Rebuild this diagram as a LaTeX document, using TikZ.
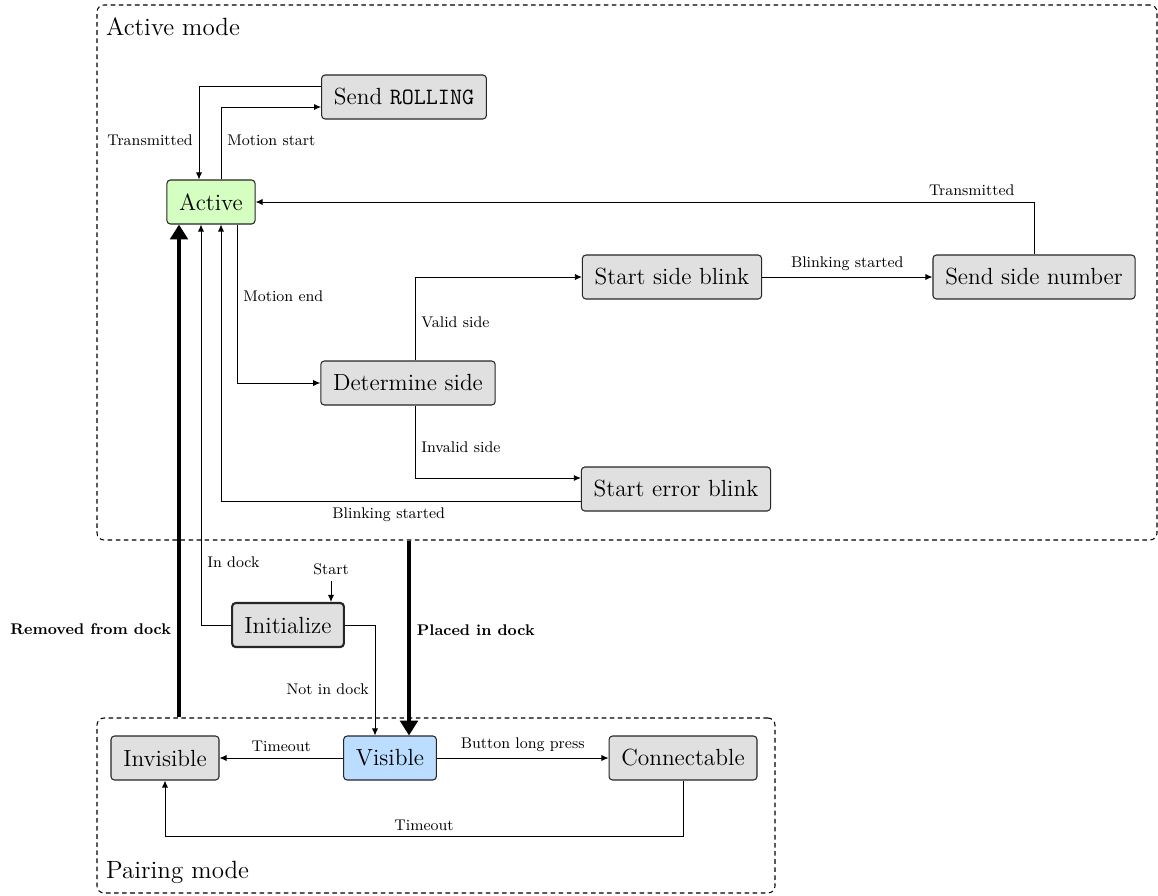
\documentclass[tikz,border=0pt]{standalone}
\usepackage{tikz}
\usetikzlibrary{arrows.meta,calc}

\definecolor{stategray}{HTML}{E0E0E0}
\definecolor{activegreen}{HTML}{D4FFC0}
\definecolor{visibleblue}{HTML}{BBDDFF}

\tikzset{
  state/.style={draw=black!85, line width=0.6pt, rounded corners=2pt, fill=stategray, minimum height=0.88cm, inner xsep=7pt, font=\fontsize{13.3}{16}\selectfont},
  modebox/.style={draw, line width=0.6pt, dash pattern=on 2.6pt off 2pt, rounded corners=4pt},
  title/.style={anchor=west, font=\fontsize{14.2}{17}\selectfont},
  lbl/.style={font=\fontsize{8.8}{10.5}\selectfont},
  trans/.style={line width=0.5pt, -{Latex[length=4pt,width=3.5pt]}},
  dock/.style={line width=2.4pt, -{Triangle[length=8.5pt,width=10pt]}},
}

\begin{document}
\begin{tikzpicture}
\useasboundingbox (0,0) rectangle (23.16,-17.9);

% modes
\node (activemode) at (12.54,-5.45) [modebox, minimum width=21.2cm, minimum height=10.7cm] {};
\node (pairingmode) at (8.72,-16.11) [modebox, minimum width=13.56cm, minimum height=3.5cm] {};
\node (activetitle) at (2.0,-0.54) [title] {Active mode};
\node (pairingtitle) at (2.0,-17.44) [title] {Pairing mode};

% states
\node (active) at (4.22,-4.04) [state, fill=activegreen] {Active};
\node (rolling) at (8.08,-1.94) [state] {Send \texttt{ROLLING}};
\node (sideblink) at (13.44,-5.54) [state] {Start side blink};
\node (sidenum) at (20.68,-5.54) [state] {Send side number};
\node (determine) at (8.16,-7.66) [state] {Determine side};
\node (errorblink) at (13.52,-9.78) [state] {Start error blink};
\node (init) at (5.76,-12.5) [state, line width=1.2pt] {Initialize};
\node (start) at (6.62,-11.38) [lbl] {Start};
\node (invisible) at (3.3,-15.16) [state] {Invisible};
\node (visible) at (7.8,-15.16) [state, fill=visibleblue] {Visible};
\node (connectable) at (13.66,-15.16) [state] {Connectable};

% active mode transitions
\draw [trans] ([yshift=0.22cm]rolling.west) -| node [lbl, pos=0.79, left] {Transmitted} ([xshift=-0.24cm]active.north);
\draw [trans] ([xshift=0.2cm]active.north) |- node [lbl, pos=0.27, right] {Motion start} ([yshift=-0.2cm]rolling.west);
\draw [trans] (sidenum.north) |- node [lbl, pos=0.54, above] {Transmitted} (active.east);
\draw [trans] ([xshift=0.52cm]active.south) |- node [lbl, pos=0.225, right] {Motion end} (determine.west);
\draw [trans] ([xshift=0.14cm]determine.north) |- node [lbl, pos=0.226, right] {Valid side} (sideblink.west);
\draw [trans] ([xshift=0.14cm]determine.south) |- node [lbl, pos=0.29, right] {Invalid side} ([yshift=0.22cm]errorblink.west);
\draw [trans] (sideblink) -- node [lbl, above] {Blinking started} (sidenum);
\draw [trans] ([yshift=-0.24cm]errorblink.west) -| node [lbl, pos=0.267, below] {Blinking started} ([xshift=0.2cm]active.south);

% start up
\draw [trans] (start) -- (start |- init.north);
\draw [trans] (init.west) -| node [lbl, pos=0.578, right] {In dock} ([xshift=-0.2cm]active.south);
\draw [trans] (init.east) -| node [lbl, pos=0.79, left] {Not in dock} ([xshift=-0.3cm]visible.north);

% dock changes
\coordinate (placed) at ([xshift=0.38cm]visible.north);
\coordinate (removed) at ([xshift=-0.64cm]active.south);
\draw [dock] (placed |- activemode.south) -- node [lbl, pos=0.46, right, font=\fontsize{8.8}{10.5}\selectfont\bfseries] {Placed in dock} (placed);
\draw [dock] (removed |- pairingmode.north) -- node [lbl, pos=0.18, left, font=\fontsize{8.8}{10.5}\selectfont\bfseries] {Removed from dock} (removed);

% pairing mode transitions
\draw [trans] (visible) -- node [lbl, above] {Timeout} (invisible);
\draw [trans] (visible) -- node [lbl, above] {Button long press} (connectable);
\draw [trans] (connectable.south) -- ++(0,-1.12) -| node [lbl, pos=0.25, above] {Timeout} (invisible.south);
\end{tikzpicture}
\end{document}
